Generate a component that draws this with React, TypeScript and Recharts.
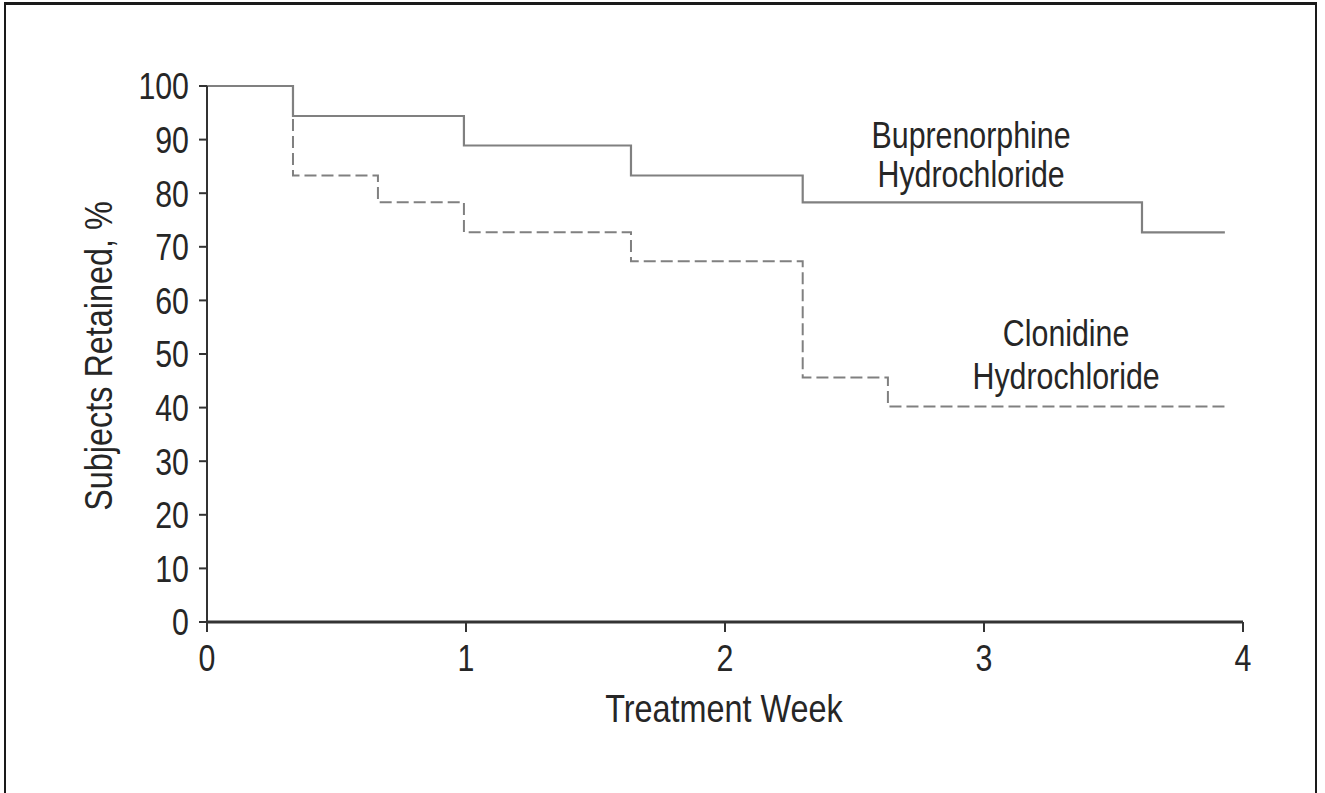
import React from 'react';
import { LineChart, Line, XAxis, YAxis, ReferenceDot } from 'recharts';

// Buprenorphine hydrochloride (solid)
const bupeWeeks = [0, 0.332, 0.992, 1.637, 2.3, 3.61, 3.93];
const bupeValues = [100, 94.4, 88.9, 83.3, 78.3, 72.7, 72.7];

// Clonidine hydrochloride (dashed)
const cloWeeks = [0, 0.332, 0.66, 0.992, 1.637, 2.3, 2.629, 3.93];
const cloValues = [100, 83.3, 78.3, 72.7, 67.3, 45.6, 40.2, 40.2];

const xTicks = [0, 1, 2, 3, 4];
const yTicks = [0, 10, 20, 30, 40, 50, 60, 70, 80, 90, 100];

const annotations = [
  { text: 'Buprenorphine', week: 2.95, value: 90.9 },
  { text: 'Hydrochloride', week: 2.95, value: 83.6 },
  { text: 'Clonidine', week: 3.317, value: 54.0 },
  { text: 'Hydrochloride', week: 3.317, value: 46.0 },
];

const bupeData = bupeWeeks.map((w, i) => ({ week: w, value: bupeValues[i] }));
const cloData = cloWeeks.map((w, i) => ({ week: w, value: cloValues[i] }));

const FONT = '"Liberation Sans", Arial, sans-serif';
const TEXT = '#262626';
const LINE = '#808080';
const SX = 0.82;
const FS = 37;
const TITLE_FS = 39.5;

type NarrowProps = {
  x: number;
  y: number;
  anchor?: 'start' | 'middle' | 'end';
  rotate?: number;
  dy?: string;
  size?: number;
  children: React.ReactNode;
};

function Narrow({ x, y, anchor = 'middle', rotate = 0, dy, size = FS, children }: NarrowProps) {
  return (
    <text
      transform={`translate(${x},${y}) rotate(${rotate}) scale(${SX},1)`}
      x={0}
      y={0}
      dy={dy}
      textAnchor={anchor}
      fill={TEXT}
      fontSize={size}
      fontFamily={FONT}
    >
      {children}
    </text>
  );
}

const XTick = (props: any) => (
  <Narrow x={props.x} y={props.y} anchor="middle" dy="0.72em">
    {props.payload.value}
  </Narrow>
);

const YTick = (props: any) => (
  <Narrow x={props.x} y={props.y} anchor="end" dy="0.36em">
    {props.payload.value}
  </Narrow>
);

export default function App() {
  return (
    <div
      style={{
        position: 'absolute',
        left: 0,
        top: 0,
        width: 1325,
        height: 793,
        overflow: 'hidden',
        background: '#fff',
      }}
    >
      <div
        style={{
          position: 'absolute',
          left: 4,
          top: 2,
          width: 1313,
          height: 820,
          border: '2px solid #1a1a1a',
          borderTopWidth: 3,
          boxSizing: 'border-box',
        }}
      />
      <div style={{ position: 'absolute', left: 0, top: 0 }}>
        <LineChart
          width={1325}
          height={793}
          margin={{ top: 86, right: 82, left: 0, bottom: 0 }}
        >
          <XAxis
            type="number"
            dataKey="week"
            domain={[0, 4]}
            ticks={xTicks}
            allowDuplicatedCategory={false}
            height={171}
            tickSize={10}
            tickMargin={12}
            axisLine={{ stroke: '#333', strokeWidth: 3 }}
            tickLine={{ stroke: '#333', strokeWidth: 2 }}
            tick={XTick}
            label={{
              content: (p: any) => {
                const vb = p.viewBox || { x: 207, y: 622, width: 1036, height: 171 };
                return (
                  <Narrow x={vb.x + vb.width / 2 - 1} y={vb.y + 100} anchor="middle" size={TITLE_FS}>
                    Treatment Week
                  </Narrow>
                );
              },
            }}
          />
          <YAxis
            type="number"
            domain={[0, 100]}
            ticks={yTicks}
            width={207}
            tickSize={8}
            tickMargin={10}
            axisLine={{ stroke: '#333', strokeWidth: 2 }}
            tickLine={{ stroke: '#333', strokeWidth: 2 }}
            tick={YTick}
            label={{
              content: (p: any) => {
                const vb = p.viewBox || { x: 0, y: 86, width: 207, height: 536 };
                return (
                  <Narrow
                    x={vb.x + 112}
                    y={vb.y + vb.height / 2 + 2}
                    anchor="middle"
                    rotate={-90}
                    size={TITLE_FS}
                  >
                    Subjects Retained, %
                  </Narrow>
                );
              },
            }}
          />
          <Line
            data={cloData}
            dataKey="value"
            type="stepAfter"
            stroke={LINE}
            strokeWidth={2}
            strokeDasharray="12 5"
            dot={false}
            activeDot={false}
            isAnimationActive={false}
          />
          <Line
            data={bupeData}
            dataKey="value"
            type="stepAfter"
            stroke={LINE}
            strokeWidth={2.2}
            dot={false}
            activeDot={false}
            isAnimationActive={false}
          />
          {annotations.map((a, i) => (
            <ReferenceDot
              key={i}
              x={a.week}
              y={a.value}
              r={0}
              fill="none"
              stroke="none"
              label={{
                content: (p: any) => {
                  const vb = p.viewBox;
                  if (!vb) return null;
                  return (
                    <Narrow x={vb.x + (vb.width || 0) / 2} y={vb.y + (vb.height || 0) / 2} anchor="middle" dy="0.36em">
                      {a.text}
                    </Narrow>
                  );
                },
              }}
            />
          ))}
        </LineChart>
      </div>
    </div>
  );
}
